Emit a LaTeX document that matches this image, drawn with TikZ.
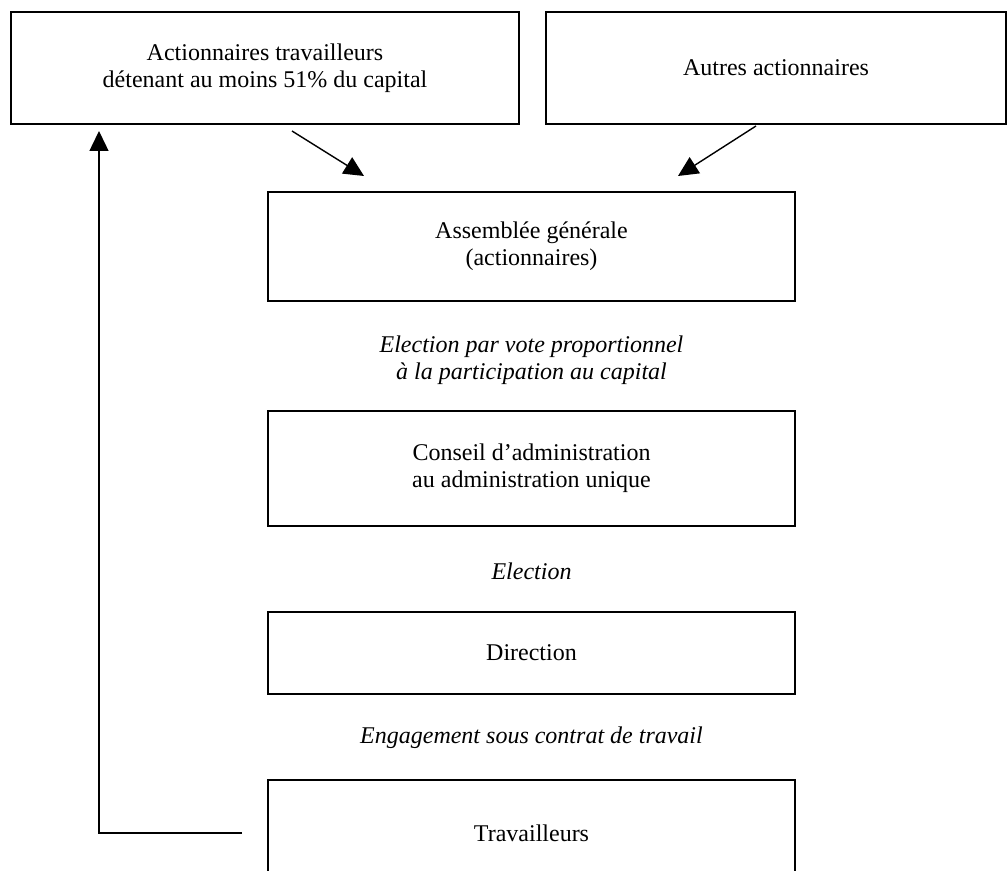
\documentclass[tikz,border=0pt]{standalone}
\usepackage{fontspec}
\setmainfont{Liberation Serif}
\usetikzlibrary{arrows.meta,calc}
\begin{document}
\begin{tikzpicture}[x=0.5pt,y=-0.5pt,
  box/.style={draw,line width=1pt,inner sep=0pt,align=center,font=\fontsize{12}{13.5}\selectfont},
  lbl/.style={inner sep=0pt,align=center,font=\fontsize{12}{13.5}\selectfont\itshape},
  arr/.style={line width=0.7pt,-{Triangle[length=10pt,width=9.5pt]}}]
\useasboundingbox (0,0) rectangle (1007,871);
\clip (0,0) rectangle (1007,871);
\node[box,minimum width=254pt,minimum height=56pt] (A) at (265,68) {Actionnaires travailleurs\\détenant au moins 51\% du capital};
\node[box,minimum width=230pt,minimum height=56pt] (B) at (776,68) {Autres actionnaires};
\node[box,minimum width=263.5pt,minimum height=54.5pt] (C) at (531.5,246.5) {Assemblée générale\\(actionnaires)};
\node[lbl] (L1) at (531.5,360) {Election par vote proportionnel\\à la participation au capital};
\node[box,minimum width=263.5pt,minimum height=57.5pt] (D) at (531.5,468.5) {Conseil d’administration\\au administration unique};
\node[lbl] (L2) at (531.5,571) {Election};
\node[box,minimum width=263.5pt,minimum height=41pt] (E) at (531.5,653) {Direction};
\node[lbl] (L3) at (531.5,738) {Engagement sous contrat de travail};
\node[box,minimum width=263.5pt,minimum height=53pt] (F) at (531.5,833) {Travailleurs};
\draw[arr] ([shift={(141pt,-3pt)}]A.south west) -- ([shift={(48.5pt,7.5pt)}]C.north west);
\draw[arr] ([shift={(105.5pt,-0.5pt)}]B.south west) -- ([shift={(-59pt,7.5pt)}]C.north east);
\draw[arr] ([xshift=-12.5pt]F.west) -| ([shift={(44.5pt,-3pt)}]A.south west);
\end{tikzpicture}
\end{document}
